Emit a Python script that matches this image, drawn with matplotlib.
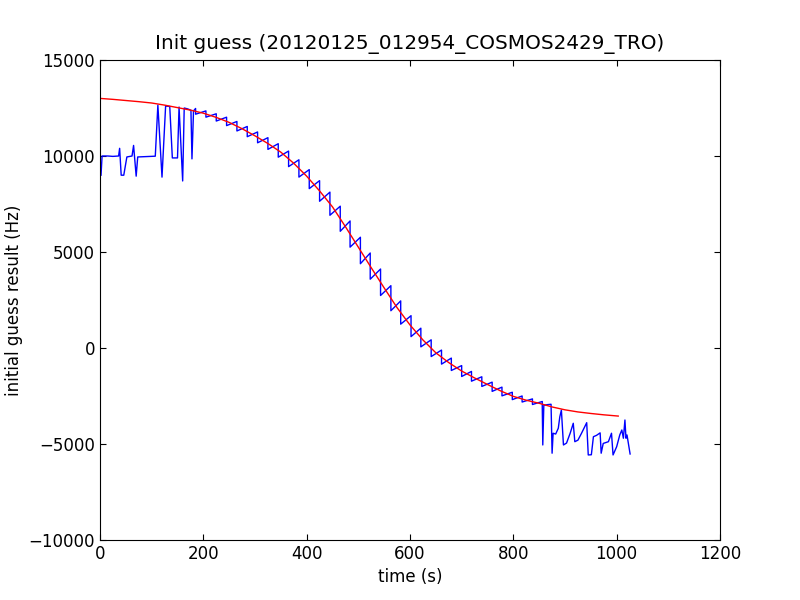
import numpy as np
import matplotlib
matplotlib.use("Agg")
from matplotlib import pyplot as plt

# fitted initial guess (red curve)
fit_t = [0, 25, 50, 75, 100, 125, 150, 175, 200, 225, 250, 275, 300, 325, 350,
         375, 400, 425, 450, 475, 500, 525, 550, 575, 600, 625, 650, 675, 700,
         725, 750, 775, 800, 825, 850, 875, 900, 925, 950, 975, 1003]
fit_v = [13000, 12950, 12890, 12830, 12760, 12650, 12520, 12390, 12230, 12010,
         11750, 11420, 11050, 10650, 10200, 9620, 8950, 8180, 7350, 6320, 5250,
         4180, 3130, 2100, 1200, 420, -250, -760, -1200, -1560, -1900, -2230,
         -2520, -2720, -2880, -3070, -3220, -3330, -3410, -3480, -3545]

# measured result, start of the run
early_t = [2, 4, 15, 25, 36, 38, 41, 46, 52, 62, 65, 70, 73, 90, 107, 112, 120,
           127, 135, 140, 150, 153, 160, 163, 170, 176, 178, 181]
early_v = [9000, 10000, 10000, 9980, 10000, 10400, 9000, 9000, 9950, 10000,
           10550, 8950, 9950, 9970, 9990, 12650, 8900, 12600, 12580, 9900, 9900,
           12550, 8700, 12500, 12450, 12380, 9850, 12350]

# sawtooth part: at each step the value drops, then climbs to the next step
step_t = [185, 205, 225, 245, 265, 285, 305, 325, 345, 365, 385, 405, 425, 445,
          465, 484, 504, 523, 543, 563, 582, 602, 621, 641, 661, 680, 700, 719,
          739, 759, 778, 798, 817, 837, 856]
step_hi = [12475, 12349, 12199, 12021, 11799, 11538, 11252, 10955, 10641, 10257,
           9803, 9291, 8717, 8118, 7385, 6617, 5768, 4948, 4113, 3246, 2453,
           1683, 1031, 427, -108, -525, -916, -1220, -1499, -1779, -2038, -2305,
           -2499, -2651, -2786]
step_lo = [12177, 12023, 11821, 11583, 11305, 11006, 10688, 10345, 9939, 9447,
           8901, 8301, 7643, 6914, 6079, 5253, 4390, 3584, 2735, 1942, 1243, 593,
           59, -445, -840, -1171, -1484, -1728, -2001, -2259, -2492, -2689,
           -2813, -2943, -3066]

# end of the run
late_t = [857, 859, 866, 873, 875, 877, 882, 887, 890, 893, 897, 903, 910, 916,
          919, 925, 932, 942, 945, 951, 955, 961, 968, 970, 974, 984, 990, 993,
          1000, 1006, 1010, 1013, 1016, 1018, 1020, 1026]
late_v = [-5050, -2980, -2950, -2930, -5480, -4440, -4480, -4180, -3580, -3230,
          -5050, -4950, -4440, -3920, -4880, -4800, -4440, -3890, -5570, -5560,
          -4620, -4550, -4420, -5480, -4970, -4880, -4440, -5570, -5140, -4530,
          -4270, -4700, -3750, -4700, -4530, -5520]

mid_t = []
mid_v = []
for t, hi, lo in zip(step_t, step_hi, step_lo):
    mid_t += [t, t]
    mid_v += [hi, lo]

meas_t = np.array(early_t + mid_t + late_t)
meas_v = np.array(early_v + mid_v + late_v)

plt.rcParams["font.size"] = 12
plt.rcParams["xtick.direction"] = "in"
plt.rcParams["ytick.direction"] = "in"
plt.rcParams["xtick.top"] = True
plt.rcParams["ytick.right"] = True
plt.rcParams["xtick.major.size"] = 4
plt.rcParams["ytick.major.size"] = 4

fig = plt.figure(figsize=(8, 6), dpi=100)
ax = fig.add_axes([0.125, 0.1, 0.775, 0.8])

ax.plot(meas_t, meas_v, color="b", lw=1.0)
ax.plot(fit_t, fit_v, color="r", lw=1.0)

ax.set_xlim(0, 1200)
ax.set_ylim(-10000, 15000)
ax.set_xticks(range(0, 1201, 200))
ax.set_yticks(range(-10000, 15001, 5000))

ax.set_title("Init guess (20120125_012954_COSMOS2429_TRO)", fontsize=14.4, pad=8)
ax.set_xlabel("time (s)")
ax.set_ylabel("initial guess result (Hz)")

fig.savefig("out.png", dpi=100)
